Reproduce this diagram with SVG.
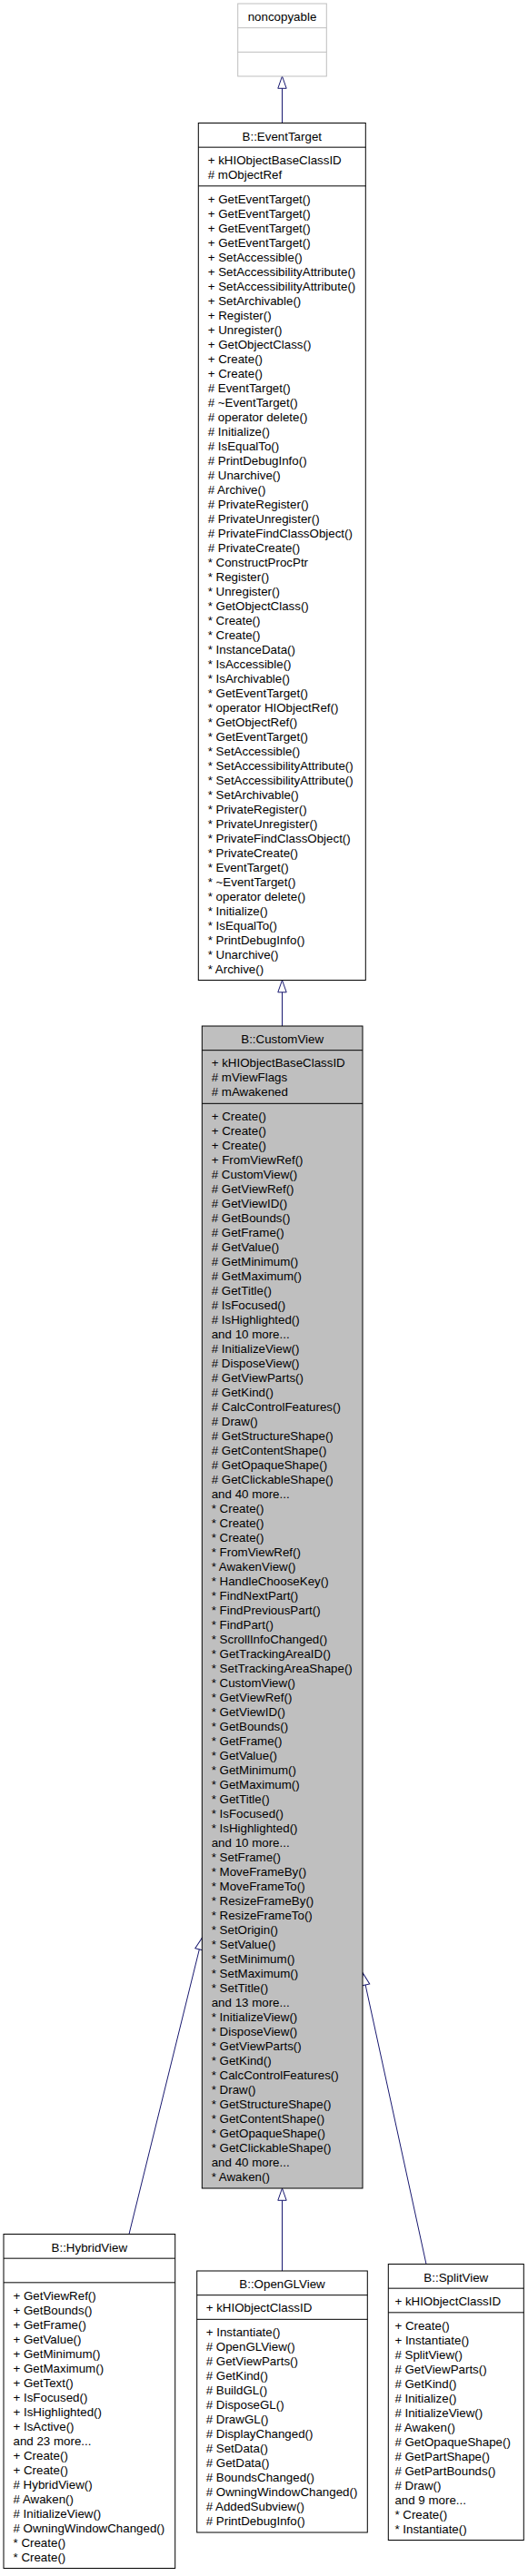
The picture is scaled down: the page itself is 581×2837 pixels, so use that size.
<svg xmlns="http://www.w3.org/2000/svg" width="581" height="2837" viewBox="0 0 581 2837">
<style>
.bg{fill:#fff}
.box{fill:#fff;stroke:#000;stroke-width:1}
.cur{fill:#bfbfbf;stroke:#000;stroke-width:1}
.ext{fill:#fff;stroke:#bfbfbf;stroke-width:1}
.div{stroke:#000;stroke-width:1}
.divx{stroke:#bfbfbf;stroke-width:1}
text{font-family:"Liberation Sans",Arial,Helvetica,sans-serif;font-size:13.33px;fill:#000}
.c{text-anchor:middle}
.edge{fill:none;stroke:#191970;stroke-width:1;marker-end:url(#inh)}
</style>
<defs>
<marker id="inh" markerUnits="userSpaceOnUse" markerWidth="16" markerHeight="12" viewBox="-1 -6 16 12" refX="13.3" refY="0" orient="auto">
<path d="M0,-4.7L13.3,0L0,4.7Z" fill="#fff" stroke="#191970" stroke-width="1"/>
</marker>
</defs>
<rect class="bg" x="0" y="0" width="581" height="2837"/>

<g id="edges">
<path class="edge" d="M310.5,135.5L310.5,84"/>
<path class="edge" d="M310.5,1130L310.5,1079.5"/>
<path class="edge" d="M310.5,2501L310.5,2410"/>
<path class="edge" d="M142,2460.5L222.5,2134"/>
<path class="edge" d="M469,2493.5L399.3,2173"/>
</g>

<g id="noncopyable">
<rect class="ext" x="261.7" y="4" width="97.6" height="80"/>
<line class="divx" x1="261.7" y1="30.67" x2="359.3" y2="30.67"/>
<line class="divx" x1="261.7" y1="57.33" x2="359.3" y2="57.33"/>
<text class="c" x="310.5" y="23">noncopyable</text>
</g>

<g id="EventTarget">
<rect class="box" x="218.3" y="135.5" width="184" height="944"/>
<line class="div" x1="218.3" y1="162.17" x2="402.3" y2="162.17"/>
<line class="div" x1="218.3" y1="204.83" x2="402.3" y2="204.83"/>
<text class="c" x="310.3" y="154.5">B::EventTarget</text>
<text x="228.7" y="180.9">+ kHIObjectBaseClassID<tspan x="228.7" dy="16"># mObjectRef</tspan></text>
<text x="228.7" y="223.5">+ GetEventTarget()<tspan x="228.7" dy="16">+ GetEventTarget()</tspan><tspan x="228.7" dy="16">+ GetEventTarget()</tspan><tspan x="228.7" dy="16">+ GetEventTarget()</tspan><tspan x="228.7" dy="16">+ SetAccessible()</tspan><tspan x="228.7" dy="16">+ SetAccessibilityAttribute()</tspan><tspan x="228.7" dy="16">+ SetAccessibilityAttribute()</tspan><tspan x="228.7" dy="16">+ SetArchivable()</tspan><tspan x="228.7" dy="16">+ Register()</tspan><tspan x="228.7" dy="16">+ Unregister()</tspan><tspan x="228.7" dy="16">+ GetObjectClass()</tspan><tspan x="228.7" dy="16">+ Create()</tspan><tspan x="228.7" dy="16">+ Create()</tspan><tspan x="228.7" dy="16"># EventTarget()</tspan><tspan x="228.7" dy="16"># ~EventTarget()</tspan><tspan x="228.7" dy="16"># operator delete()</tspan><tspan x="228.7" dy="16"># Initialize()</tspan><tspan x="228.7" dy="16"># IsEqualTo()</tspan><tspan x="228.7" dy="16"># PrintDebugInfo()</tspan><tspan x="228.7" dy="16"># Unarchive()</tspan><tspan x="228.7" dy="16"># Archive()</tspan><tspan x="228.7" dy="16"># PrivateRegister()</tspan><tspan x="228.7" dy="16"># PrivateUnregister()</tspan><tspan x="228.7" dy="16"># PrivateFindClassObject()</tspan><tspan x="228.7" dy="16"># PrivateCreate()</tspan><tspan x="228.7" dy="16">* ConstructProcPtr</tspan><tspan x="228.7" dy="16">* Register()</tspan><tspan x="228.7" dy="16">* Unregister()</tspan><tspan x="228.7" dy="16">* GetObjectClass()</tspan><tspan x="228.7" dy="16">* Create()</tspan><tspan x="228.7" dy="16">* Create()</tspan><tspan x="228.7" dy="16">* InstanceData()</tspan><tspan x="228.7" dy="16">* IsAccessible()</tspan><tspan x="228.7" dy="16">* IsArchivable()</tspan><tspan x="228.7" dy="16">* GetEventTarget()</tspan><tspan x="228.7" dy="16">* operator HIObjectRef()</tspan><tspan x="228.7" dy="16">* GetObjectRef()</tspan><tspan x="228.7" dy="16">* GetEventTarget()</tspan><tspan x="228.7" dy="16">* SetAccessible()</tspan><tspan x="228.7" dy="16">* SetAccessibilityAttribute()</tspan><tspan x="228.7" dy="16">* SetAccessibilityAttribute()</tspan><tspan x="228.7" dy="16">* SetArchivable()</tspan><tspan x="228.7" dy="16">* PrivateRegister()</tspan><tspan x="228.7" dy="16">* PrivateUnregister()</tspan><tspan x="228.7" dy="16">* PrivateFindClassObject()</tspan><tspan x="228.7" dy="16">* PrivateCreate()</tspan><tspan x="228.7" dy="16">* EventTarget()</tspan><tspan x="228.7" dy="16">* ~EventTarget()</tspan><tspan x="228.7" dy="16">* operator delete()</tspan><tspan x="228.7" dy="16">* Initialize()</tspan><tspan x="228.7" dy="16">* IsEqualTo()</tspan><tspan x="228.7" dy="16">* PrintDebugInfo()</tspan><tspan x="228.7" dy="16">* Unarchive()</tspan><tspan x="228.7" dy="16">* Archive()</tspan></text>
</g>

<g id="CustomView">
<rect class="cur" x="222.3" y="1130" width="176.7" height="1280"/>
<line class="div" x1="222.3" y1="1156.67" x2="399" y2="1156.67"/>
<line class="div" x1="222.3" y1="1215.33" x2="399" y2="1215.33"/>
<text class="c" x="310.7" y="1149">B::CustomView</text>
<text x="232.7" y="1175.4">+ kHIObjectBaseClassID<tspan x="232.7" dy="16"># mViewFlags</tspan><tspan x="232.7" dy="16"># mAwakened</tspan></text>
<text x="232.7" y="1234">+ Create()<tspan x="232.7" dy="16">+ Create()</tspan><tspan x="232.7" dy="16">+ Create()</tspan><tspan x="232.7" dy="16">+ FromViewRef()</tspan><tspan x="232.7" dy="16"># CustomView()</tspan><tspan x="232.7" dy="16"># GetViewRef()</tspan><tspan x="232.7" dy="16"># GetViewID()</tspan><tspan x="232.7" dy="16"># GetBounds()</tspan><tspan x="232.7" dy="16"># GetFrame()</tspan><tspan x="232.7" dy="16"># GetValue()</tspan><tspan x="232.7" dy="16"># GetMinimum()</tspan><tspan x="232.7" dy="16"># GetMaximum()</tspan><tspan x="232.7" dy="16"># GetTitle()</tspan><tspan x="232.7" dy="16"># IsFocused()</tspan><tspan x="232.7" dy="16"># IsHighlighted()</tspan><tspan x="232.7" dy="16">and 10 more...</tspan><tspan x="232.7" dy="16"># InitializeView()</tspan><tspan x="232.7" dy="16"># DisposeView()</tspan><tspan x="232.7" dy="16"># GetViewParts()</tspan><tspan x="232.7" dy="16"># GetKind()</tspan><tspan x="232.7" dy="16"># CalcControlFeatures()</tspan><tspan x="232.7" dy="16"># Draw()</tspan><tspan x="232.7" dy="16"># GetStructureShape()</tspan><tspan x="232.7" dy="16"># GetContentShape()</tspan><tspan x="232.7" dy="16"># GetOpaqueShape()</tspan><tspan x="232.7" dy="16"># GetClickableShape()</tspan><tspan x="232.7" dy="16">and 40 more...</tspan><tspan x="232.7" dy="16">* Create()</tspan><tspan x="232.7" dy="16">* Create()</tspan><tspan x="232.7" dy="16">* Create()</tspan><tspan x="232.7" dy="16">* FromViewRef()</tspan><tspan x="232.7" dy="16">* AwakenView()</tspan><tspan x="232.7" dy="16">* HandleChooseKey()</tspan><tspan x="232.7" dy="16">* FindNextPart()</tspan><tspan x="232.7" dy="16">* FindPreviousPart()</tspan><tspan x="232.7" dy="16">* FindPart()</tspan><tspan x="232.7" dy="16">* ScrollInfoChanged()</tspan><tspan x="232.7" dy="16">* GetTrackingAreaID()</tspan><tspan x="232.7" dy="16">* SetTrackingAreaShape()</tspan><tspan x="232.7" dy="16">* CustomView()</tspan><tspan x="232.7" dy="16">* GetViewRef()</tspan><tspan x="232.7" dy="16">* GetViewID()</tspan><tspan x="232.7" dy="16">* GetBounds()</tspan><tspan x="232.7" dy="16">* GetFrame()</tspan><tspan x="232.7" dy="16">* GetValue()</tspan><tspan x="232.7" dy="16">* GetMinimum()</tspan><tspan x="232.7" dy="16">* GetMaximum()</tspan><tspan x="232.7" dy="16">* GetTitle()</tspan><tspan x="232.7" dy="16">* IsFocused()</tspan><tspan x="232.7" dy="16">* IsHighlighted()</tspan><tspan x="232.7" dy="16">and 10 more...</tspan><tspan x="232.7" dy="16">* SetFrame()</tspan><tspan x="232.7" dy="16">* MoveFrameBy()</tspan><tspan x="232.7" dy="16">* MoveFrameTo()</tspan><tspan x="232.7" dy="16">* ResizeFrameBy()</tspan><tspan x="232.7" dy="16">* ResizeFrameTo()</tspan><tspan x="232.7" dy="16">* SetOrigin()</tspan><tspan x="232.7" dy="16">* SetValue()</tspan><tspan x="232.7" dy="16">* SetMinimum()</tspan><tspan x="232.7" dy="16">* SetMaximum()</tspan><tspan x="232.7" dy="16">* SetTitle()</tspan><tspan x="232.7" dy="16">and 13 more...</tspan><tspan x="232.7" dy="16">* InitializeView()</tspan><tspan x="232.7" dy="16">* DisposeView()</tspan><tspan x="232.7" dy="16">* GetViewParts()</tspan><tspan x="232.7" dy="16">* GetKind()</tspan><tspan x="232.7" dy="16">* CalcControlFeatures()</tspan><tspan x="232.7" dy="16">* Draw()</tspan><tspan x="232.7" dy="16">* GetStructureShape()</tspan><tspan x="232.7" dy="16">* GetContentShape()</tspan><tspan x="232.7" dy="16">* GetOpaqueShape()</tspan><tspan x="232.7" dy="16">* GetClickableShape()</tspan><tspan x="232.7" dy="16">and 40 more...</tspan><tspan x="232.7" dy="16">* Awaken()</tspan></text>
</g>

<g id="HybridView">
<rect class="box" x="4" y="2460.5" width="188.7" height="368"/>
<line class="div" x1="4" y1="2487.17" x2="192.7" y2="2487.17"/>
<line class="div" x1="4" y1="2513.83" x2="192.7" y2="2513.83"/>
<text class="c" x="98.3" y="2479.5">B::HybridView</text>
<text x="14.5" y="2532.5">+ GetViewRef()<tspan x="14.5" dy="16">+ GetBounds()</tspan><tspan x="14.5" dy="16">+ GetFrame()</tspan><tspan x="14.5" dy="16">+ GetValue()</tspan><tspan x="14.5" dy="16">+ GetMinimum()</tspan><tspan x="14.5" dy="16">+ GetMaximum()</tspan><tspan x="14.5" dy="16">+ GetText()</tspan><tspan x="14.5" dy="16">+ IsFocused()</tspan><tspan x="14.5" dy="16">+ IsHighlighted()</tspan><tspan x="14.5" dy="16">+ IsActive()</tspan><tspan x="14.5" dy="16">and 23 more...</tspan><tspan x="14.5" dy="16">+ Create()</tspan><tspan x="14.5" dy="16">+ Create()</tspan><tspan x="14.5" dy="16"># HybridView()</tspan><tspan x="14.5" dy="16"># Awaken()</tspan><tspan x="14.5" dy="16"># InitializeView()</tspan><tspan x="14.5" dy="16"># OwningWindowChanged()</tspan><tspan x="14.5" dy="16">* Create()</tspan><tspan x="14.5" dy="16">* Create()</tspan></text>
</g>

<g id="OpenGLView">
<rect class="box" x="216.7" y="2501" width="187.6" height="288"/>
<line class="div" x1="216.7" y1="2527.67" x2="404.3" y2="2527.67"/>
<line class="div" x1="216.7" y1="2554.33" x2="404.3" y2="2554.33"/>
<text class="c" x="310.5" y="2520">B::OpenGLView</text>
<text x="226.7" y="2546.4">+ kHIObjectClassID</text>
<text x="226.7" y="2573">+ Instantiate()<tspan x="226.7" dy="16"># OpenGLView()</tspan><tspan x="226.7" dy="16"># GetViewParts()</tspan><tspan x="226.7" dy="16"># GetKind()</tspan><tspan x="226.7" dy="16"># BuildGL()</tspan><tspan x="226.7" dy="16"># DisposeGL()</tspan><tspan x="226.7" dy="16"># DrawGL()</tspan><tspan x="226.7" dy="16"># DisplayChanged()</tspan><tspan x="226.7" dy="16"># SetData()</tspan><tspan x="226.7" dy="16"># GetData()</tspan><tspan x="226.7" dy="16"># BoundsChanged()</tspan><tspan x="226.7" dy="16"># OwningWindowChanged()</tspan><tspan x="226.7" dy="16"># AddedSubview()</tspan><tspan x="226.7" dy="16"># PrintDebugInfo()</tspan></text>
</g>

<g id="SplitView">
<rect class="box" x="427.3" y="2493.5" width="149" height="304"/>
<line class="div" x1="427.3" y1="2520.17" x2="576.3" y2="2520.17"/>
<line class="div" x1="427.3" y1="2546.83" x2="576.3" y2="2546.83"/>
<text class="c" x="501.8" y="2512.5">B::SplitView</text>
<text x="434.4" y="2538.9">+ kHIObjectClassID</text>
<text x="434.4" y="2565.5">+ Create()<tspan x="434.4" dy="16">+ Instantiate()</tspan><tspan x="434.4" dy="16"># SplitView()</tspan><tspan x="434.4" dy="16"># GetViewParts()</tspan><tspan x="434.4" dy="16"># GetKind()</tspan><tspan x="434.4" dy="16"># Initialize()</tspan><tspan x="434.4" dy="16"># InitializeView()</tspan><tspan x="434.4" dy="16"># Awaken()</tspan><tspan x="434.4" dy="16"># GetOpaqueShape()</tspan><tspan x="434.4" dy="16"># GetPartShape()</tspan><tspan x="434.4" dy="16"># GetPartBounds()</tspan><tspan x="434.4" dy="16"># Draw()</tspan><tspan x="434.4" dy="16">and 9 more...</tspan><tspan x="434.4" dy="16">* Create()</tspan><tspan x="434.4" dy="16">* Instantiate()</tspan></text>
</g>
</svg>
